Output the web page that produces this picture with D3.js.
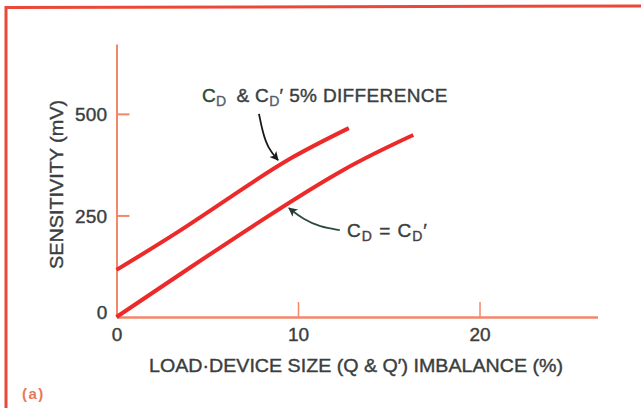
<!DOCTYPE html>
<html>
<head>
<meta charset="utf-8">
<script src="https://cdn.jsdelivr.net/npm/d3@7"></script>
<style>
  html, body { margin: 0; padding: 0; background: #ffffff; }
  svg { display: block; }
  text { font-family: "Liberation Sans", Arial, Helvetica, sans-serif; }
</style>
</head>
<body>
<svg id="chart" width="641" height="408"></svg>
<script>
// ---- Data ----
const xTicks = [0, 10, 20];
const yTicks = [0, 250, 500];
const yTickLabels = ["0", "250", "500"];

// Curve "C_D & C_D' 5% difference"
const diffX = [0, 3.3, 6.6, 9.7, 12.8];
const diffY = [116, 207, 305, 393, 465];

// Curve "C_D = C_D'"
const equalX = [0, 4.0, 8.0, 12.5, 16.35];
const equalY = [0, 120, 238, 362, 448];

// Annotation arrows (data units)
const arrow1X = [7.85, 8.05, 8.35, 8.9];
const arrow1Y = [500, 455, 415, 386];
const arrow2X = [12.3, 11.2, 10.3, 9.5];
const arrow2Y = [214, 222, 240, 268];

const xTitle = "LOAD\u00B7DEVICE SIZE (Q & Q\u2032) IMBALANCE (%)";
const yTitle = "SENSITIVITY (mV)";
const panelLabel = "(a)";

// ---- Drawing ----
const svg = d3.select("#chart");
const x = d3.scaleLinear().domain([0, 26.5]).range([116.5, 597.5]);
const y = d3.scaleLinear().domain([0, 672]).range([317, 44]);

const axisColor = "#f2876a";
const lineColor = "#ec2a2a";
const textColor = "#3a3e3e";

// frame
svg.append("path")
  .attr("d", "M6,408 L6,7.5 L641,6")
  .attr("fill", "none")
  .attr("stroke", "#ea4838")
  .attr("stroke-width", 3);

function boldish(sel, w) {
  sel.attr("stroke", textColor).attr("stroke-width", w || 0.4).attr("paint-order", "stroke");
}

// y axis
const yAxis = svg.append("g")
  .attr("transform", `translate(${x(0)},0)`)
  .call(d3.axisLeft(y).tickValues(yTicks)
    .tickFormat((d, i) => yTickLabels[i])
    .tickSizeInner(-13).tickSizeOuter(0).tickPadding(9));
yAxis.select(".domain").attr("stroke", axisColor).attr("stroke-width", 2);
yAxis.selectAll(".tick line").attr("stroke", axisColor).attr("stroke-width", 2);
yAxis.selectAll(".tick").filter(d => d === 0).select("line").remove();
yAxis.selectAll(".tick text")
  .attr("fill", textColor).attr("font-size", 19).attr("font-family", null)
  .attr("letter-spacing", 0.3)
  .attr("dy", d => d === 0 ? "0.1em" : "0.35em")
  .call(boldish);

// x axis
const xAxis = svg.append("g")
  .attr("transform", `translate(0,${y(0)})`)
  .call(d3.axisBottom(x).tickValues(xTicks)
    .tickSizeInner(-15).tickSizeOuter(0).tickPadding(11));
xAxis.select(".domain").attr("stroke", axisColor).attr("stroke-width", 2.5);
xAxis.selectAll(".tick line").attr("stroke", axisColor).attr("stroke-width", 1.5);
xAxis.selectAll(".tick").filter(d => d === 0).select("line").remove();
xAxis.selectAll(".tick text")
  .attr("fill", textColor).attr("font-size", 19).attr("font-family", null)
  .call(boldish);

// data lines
const line = d3.line().x(d => x(d[0])).y(d => y(d[1])).curve(d3.curveNatural);
svg.append("path")
  .datum(diffX.map((v, i) => [v, diffY[i]]))
  .attr("d", line).attr("fill", "none")
  .attr("stroke", lineColor).attr("stroke-width", 4).attr("stroke-linecap", "butt");
svg.append("path")
  .datum(equalX.map((v, i) => [v, equalY[i]]))
  .attr("d", line).attr("fill", "none")
  .attr("stroke", lineColor).attr("stroke-width", 4).attr("stroke-linecap", "butt");

// arrow markers
const defs = svg.append("defs");
function marker(id, color) {
  defs.append("marker").attr("id", id)
    .attr("viewBox", "0 0 10 10").attr("refX", 9).attr("refY", 5)
    .attr("markerWidth", 11).attr("markerHeight", 9)
    .attr("markerUnits", "userSpaceOnUse")
    .attr("orient", "auto")
    .append("path").attr("d", "M0,0 L10,5 L0,10 L2.5,5 Z").attr("fill", color);
}
marker("ah1", "#1a1a1a");
marker("ah2", "#243a30");

const aLine = d3.line().x(d => x(d[0])).y(d => y(d[1])).curve(d3.curveBasis);
svg.append("path")
  .datum(arrow1X.map((v, i) => [v, arrow1Y[i]]))
  .attr("d", aLine).attr("fill", "none")
  .attr("stroke", "#1a1a1a").attr("stroke-width", 1.8)
  .attr("marker-end", "url(#ah1)");
svg.append("path")
  .datum(arrow2X.map((v, i) => [v, arrow2Y[i]]))
  .attr("d", aLine).attr("fill", "none")
  .attr("stroke", "#2e4a40").attr("stroke-width", 1.8)
  .attr("marker-end", "url(#ah2)");

// annotation 1
const t1 = svg.append("text").attr("x", 202).attr("y", 101.5)
  .attr("font-size", 19).attr("fill", textColor).attr("letter-spacing", 0.35)
  .call(boldish);
t1.append("tspan").attr("fill", "#2c4a34").attr("stroke", "#2c4a34").text("C");
t1.append("tspan").attr("font-size", 14).attr("dy", 4).attr("fill", "#55606a").attr("stroke", "#55606a").text("D");
t1.append("tspan").attr("dy", -4).text("\u2002& C");
t1.append("tspan").attr("font-size", 14).attr("dy", 4).attr("fill", "#55606a").attr("stroke", "#55606a").text("D");
t1.append("tspan").attr("dy", -4).text("\u2032 5% DIFFERENCE");

// annotation 2
const t2 = svg.append("text").attr("x", 347).attr("y", 237)
  .attr("font-size", 19).attr("fill", textColor).attr("letter-spacing", 1)
  .call(boldish);
t2.append("tspan").text("C");
t2.append("tspan").attr("font-size", 14).attr("dy", 4).attr("fill", "#4a3f4a").attr("stroke", "#4a3f4a").text("D");
t2.append("tspan").attr("dy", -4).text(" = C");
t2.append("tspan").attr("font-size", 14).attr("dy", 4).attr("fill", "#4a3f4a").attr("stroke", "#4a3f4a").text("D");
t2.append("tspan").attr("dy", -4).text("\u2032");

// axis titles
svg.append("text").attr("x", 149).attr("y", 372)
  .attr("font-size", 19).attr("fill", textColor)
  .attr("textLength", 414).attr("lengthAdjust", "spacingAndGlyphs")
  .call(boldish)
  .text(xTitle);
svg.append("text")
  .attr("transform", "translate(63,269) rotate(-90)")
  .attr("font-size", 19).attr("fill", textColor)
  .attr("textLength", 169).attr("lengthAdjust", "spacingAndGlyphs")
  .call(boldish)
  .text(yTitle);

// panel label
svg.append("text").attr("x", 22).attr("y", 399)
  .attr("font-size", 15).attr("font-weight", "bold").attr("fill", "#e8785a")
  .attr("letter-spacing", 1.5)
  .text(panelLabel);
</script>
</body>
</html>
